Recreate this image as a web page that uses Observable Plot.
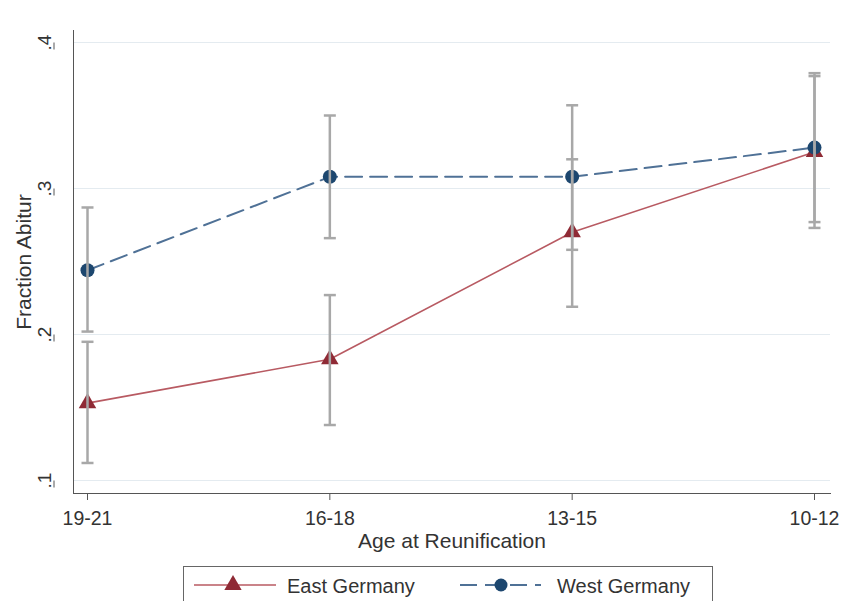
<!DOCTYPE html>
<html><head><meta charset="utf-8">
<script src="https://cdn.jsdelivr.net/npm/d3@7"></script>
<script src="https://cdn.jsdelivr.net/npm/@observablehq/plot@0.6"></script>
<style>
body{margin:0;background:#fff;font-family:"Liberation Sans",Arial,sans-serif;}
#legend{position:absolute;left:183px;top:566px;width:530px;height:50px;border:1px solid #666;box-sizing:border-box;background:#fff;}
</style></head>
<body><div id="chart"></div><div id="legend"></div>
<script>
const ages = ["19-21","16-18","13-15","10-12"];
const eastMean = [0.153, 0.183, 0.270, 0.325];
const eastLow  = [0.112, 0.138, 0.219, 0.273];
const eastHigh = [0.195, 0.227, 0.320, 0.377];
const westMean = [0.244, 0.308, 0.308, 0.328];
const westLow  = [0.202, 0.266, 0.258, 0.277];
const westHigh = [0.287, 0.350, 0.357, 0.379];
const yTicks = [0.1, 0.2, 0.3, 0.4];

const rows = [];
ages.forEach((a,i)=>{
  rows.push({series:"East Germany", i, mean:eastMean[i], lo:eastLow[i], hi:eastHigh[i]});
  rows.push({series:"West Germany", i, mean:westMean[i], lo:westLow[i], hi:westHigh[i]});
});
const east = rows.filter(d=>d.series==="East Germany");
const west = rows.filter(d=>d.series==="West Germany");
const capSymbol = {draw(ctx, size){const w=Math.sqrt(size/Math.PI); ctx.moveTo(-w,0); ctx.lineTo(w,0);}};
const capsData = rows.flatMap(d=>[{i:d.i,y:d.lo},{i:d.i,y:d.hi}]);

const chart = Plot.plot({
  width:844, height:560,
  marginLeft:73, marginRight:14, marginTop:30, marginBottom:67,
  insetLeft:14, insetRight:16, insetTop:12, insetBottom:13,
  style:{fontFamily:"'Liberation Sans', Arial, sans-serif", fontSize:"19px", color:"#333", background:"#fff"},
  x:{type:"linear", domain:[0,3]},
  y:{domain:[0.1,0.4]},
  marks:[
    Plot.gridY(yTicks,{stroke:"#e4ebf0", strokeOpacity:1, strokeWidth:1}),
    Plot.frame({anchor:"left", stroke:"#555"}),
    Plot.frame({anchor:"bottom", stroke:"#555"}),
    Plot.axisY({ticks:yTicks, tickFormat:d=>d3.format(".1f")(d).replace(/^0/,""), tickSize:7, tickPadding:3, rotate:-90, textAnchor:"middle", dx:-19, dy:0, fontSize:19, stroke:"#555", label:null, fill:"#333"}),
    Plot.axisX({ticks:[0,1,2,3], tickFormat:i=>ages[i], tickSize:7, tickPadding:11, fontSize:19.5, stroke:"#555", label:null, fill:"#333"}),
    Plot.text(["Fraction Abitur"],{frameAnchor:"left", textAnchor:"middle", dx:-49, rotate:-90, fontSize:21, fill:"#333"}),
    Plot.text(["Age at Reunification"],{frameAnchor:"bottom", textAnchor:"middle", dy:54, fontSize:21, fill:"#333"}),
    Plot.line(east,{x:"i", y:"mean", stroke:"#b85a62", strokeWidth:1.6}),
    Plot.line(west,{x:"i", y:"mean", stroke:"#4f7196", strokeWidth:2, strokeDasharray:"17,8"}),
    Plot.dot(east,{x:"i", y:"mean", symbol:"triangle", r:6.5, fill:"#8f2a35", stroke:"none"}),
    Plot.dot(west,{x:"i", y:"mean", symbol:"circle", r:7, fill:"#1d476f", stroke:"none"}),
    Plot.ruleX(rows,{x:"i", y1:"lo", y2:"hi", stroke:"#a8a8a8", strokeWidth:2.5}),
    Plot.dot(capsData,{x:"i", y:"y", symbol:capSymbol, r:6, stroke:"#a8a8a8", strokeWidth:2.5, fill:"none"})
  ]
});
document.getElementById("chart").appendChild(chart);

const lg = d3.select("#legend").append("svg").attr("width",528).attr("height",48);
const g1 = lg.append("g");
g1.append("line").attr("x1",10).attr("x2",92).attr("y1",18).attr("y2",18).attr("stroke","#b85a62").attr("stroke-width",1.6);
g1.append("path").attr("d",d3.symbol(d3.symbolTriangle, 130)()).attr("transform","translate(49,18)").attr("fill","#8f2a35");
g1.append("text").attr("x",103).attr("y",26).attr("font-size",20).attr("fill","#333").text("East Germany");
const g2 = lg.append("g");
g2.append("line").attr("x1",276).attr("x2",357).attr("y1",18).attr("y2",18).attr("stroke","#4f7196").attr("stroke-width",2).attr("stroke-dasharray","17,8");
g2.append("circle").attr("cx",317).attr("cy",18).attr("r",6.5).attr("fill","#1d476f");
g2.append("text").attr("x",373).attr("y",26).attr("font-size",20).attr("fill","#333").text("West Germany");
</script></body></html>
